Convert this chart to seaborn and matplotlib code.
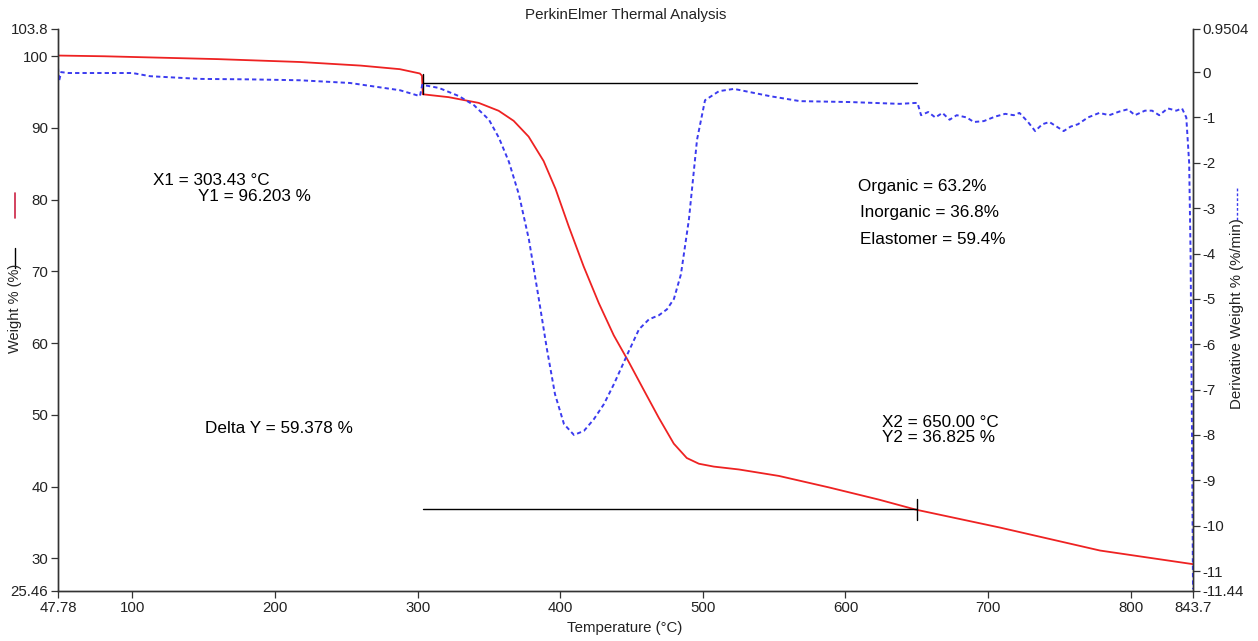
import numpy as np
import pandas as pd
import matplotlib
matplotlib.use("Agg")
import matplotlib.pyplot as plt
from matplotlib.lines import Line2D
import seaborn as sns

# ---- data ----
w_temp = [47.78, 80, 120, 160, 217.5, 260, 287.5, 301.5, 303.0, 303.6, 321.7, 342.8, 356.8,
          367.3, 377.8, 388.3, 396.7, 405.9, 416.4, 427.0, 437.5, 448.0, 458.5, 469.1,
          479.6, 488.7, 497.2, 507.7, 525.3, 553.3, 588.4, 623.4, 649.4, 708.4, 778.5, 843.7]
w_weight = [100.1, 100.0, 99.8, 99.6, 99.2, 98.7, 98.2, 97.6, 97.3, 94.7, 94.3, 93.5, 92.4,
            91.0, 88.8, 85.4, 81.5, 76.3, 70.7, 65.6, 61.1, 57.4, 53.5, 49.6,
            46.0, 44.0, 43.2, 42.8, 42.4, 41.5, 39.9, 38.2, 36.8, 34.3, 31.1, 29.2]

d_temp = [47.78, 48.5, 50, 55, 100, 112.3, 147.4, 182, 217.5, 252.6, 287.6, 301.6, 303.2, 315.0,
          329.0, 339.5, 350.0, 357.0, 364.0, 371.0, 378.0, 385.0, 390.6, 396.3, 402.6,
          409.6, 416.6, 423.6, 430.6, 437.6, 448.1, 455.2, 462.2, 469.2, 474.8, 479.7,
          484.6, 490.2, 495.9, 501.5, 511.3, 521.8, 547.0, 568.0, 603.0, 638.0, 649.0,
          650.5, 653, 658, 663, 668, 673, 678, 685, 690, 697, 705, 712, 718, 722, 728,
          733, 738, 743, 748, 753, 758, 763, 770, 778, 785, 792, 798, 803, 810, 815,
          820, 826, 832, 836, 839, 841, 842, 843, 843.7]
d_deriv = [0.1, -0.2, 0.0, -0.02, -0.02, -0.09, -0.15, -0.16, -0.18, -0.24, -0.40, -0.53, -0.28, -0.35,
           -0.53, -0.73, -1.05, -1.45, -1.98, -2.70, -3.69, -5.01, -6.10, -7.10, -7.76,
           -8.00, -7.91, -7.65, -7.32, -6.88, -6.15, -5.67, -5.45, -5.36, -5.23, -5.00,
           -4.46, -3.25, -1.49, -0.62, -0.42, -0.37, -0.53, -0.64, -0.66, -0.70, -0.68,
           -0.68, -0.95, -0.88, -1.00, -0.90, -1.05, -0.95, -1.00, -1.10, -1.08, -0.98, -0.92, -0.95, -0.90, -1.10,
           -1.30, -1.15, -1.10, -1.20, -1.30, -1.20, -1.15, -1.00, -0.90, -0.95, -0.87, -0.82, -0.95, -0.85, -0.85,
           -0.95, -0.80, -0.85, -0.80, -1.00, -2.00, -4.00, -8.00, -11.40]

x_ticks = [47.78, 100, 200, 300, 400, 500, 600, 700, 800, 843.7]
x_labels = ["47.78", "100", "200", "300", "400", "500", "600", "700", "800", "843.7"]
yl_ticks = [25.46, 30, 40, 50, 60, 70, 80, 90, 100, 103.8]
yl_labels = ["25.46", "30", "40", "50", "60", "70", "80", "90", "100", "103.8"]
yr_ticks = [-11.44, -11, -10, -9, -8, -7, -6, -5, -4, -3, -2, -1, 0, 0.9504]
yr_labels = ["-11.44", "-11", "-10", "-9", "-8", "-7", "-6", "-5", "-4", "-3", "-2", "-1", "0", "0.9504"]

x1, y1 = 303.43, 96.203
x2, y2 = 650.00, 36.825

# ---- plotting ----
sns.set_theme(style="ticks")
plt.rcParams['font.family'] = ['Liberation Sans', 'DejaVu Sans']

fig = plt.figure(figsize=(12.58, 6.41), dpi=100)
ax = fig.add_axes([58/1258, 1-591/641, (1193-58)/1258, (591-29)/641])
ax2 = ax.twinx()

wdf = pd.DataFrame({"Temperature": w_temp, "Weight": w_weight})
ddf = pd.DataFrame({"Temperature": d_temp, "Deriv": d_deriv})

sns.lineplot(data=wdf, x="Temperature", y="Weight", ax=ax, color="#ee2222",
             linewidth=1.3, estimator=None, sort=False)
sns.lineplot(data=ddf, x="Temperature", y="Deriv", ax=ax2, color="#3b3bef",
             linewidth=1.4, linestyle=(0, (2.2, 1.6)), estimator=None, sort=False)

# annotation lines
ax.plot([x1, x2], [y1, y1], color="black", lw=1.0)
ax.plot([x1, x1], [97.5, 94.8], color="black", lw=1.0)
ax.plot([x1, x2], [y2, y2], color="black", lw=1.0)
ax.plot([x2, x2], [38.3, 35.3], color="black", lw=1.0)

ax.set_xlim(47.78, 843.7)
ax.set_ylim(25.46, 103.8)
ax2.set_ylim(-11.44, 0.9504)
ax.set_xticks(x_ticks)
ax.set_xticklabels(x_labels)
ax.set_yticks(yl_ticks)
ax.set_yticklabels(yl_labels)
ax2.set_yticks(yr_ticks)
ax2.set_yticklabels(yr_labels)
ax.set_xlabel("")
ax.set_ylabel("")
ax2.set_ylabel("")

for a in (ax, ax2):
    a.spines['top'].set_visible(False)
    for s in a.spines.values():
        s.set_color("#333333")
        s.set_linewidth(1.0)
    a.tick_params(axis='both', direction='out', length=5, width=0.9, color="#333333",
                  labelsize=10.8, labelcolor="#222222", pad=2)

# texts
tk = dict(fontsize=12.3, color="black", ha="left", va="baseline")
ax.text(114.4, 82.08, "X1 = 303.43 °C", **tk)
ax.text(145.9, 79.86, "Y1 = 96.203 %", **tk)
ax.text(150.9, 47.5, "Delta Y = 59.378 %", **tk)
ax.text(625.6, 48.33, "X2 = 650.00 °C", **tk)
ax.text(625.6, 46.25, "Y2 = 36.825 %", **tk)
ax.text(608.8, 81.25, "Organic = 63.2%", **tk)
ax.text(610.2, 77.64, "Inorganic = 36.8%", **tk)
ax.text(610.2, 73.89, "Elastomer = 59.4%", **tk)

fig.text(626/1258, 1-15/641, "PerkinElmer Thermal Analysis", ha="center", va="center",
         fontsize=10.9, color="#222222")
fig.text(625/1258, 1-628/641, "Temperature (°C)", ha="center", va="center",
         fontsize=10.8, color="#222222")
fig.text(15/1258, 1-308/641, "Weight % (%)", ha="center", va="center", rotation=90,
         fontsize=10.5, color="#222222")
fig.add_artist(Line2D([15/1258, 15/1258], [1-268/641, 1-248/641], color="black", lw=1.0))
fig.add_artist(Line2D([15/1258, 15/1258], [1-218/641, 1-193/641], color="#cc2244", lw=1.2))
fig.text(1237/1258, 1-314/641, "Derivative Weight % (%/min)", ha="center", va="center",
         rotation=90, fontsize=10.8, color="#222222")
fig.add_artist(Line2D([1237/1258, 1237/1258], [1-220/641, 1-186/641], color="#3b3bef",
                      lw=1.0, linestyle=(0, (2, 1.5))))

fig.savefig("out.png", dpi=100)
